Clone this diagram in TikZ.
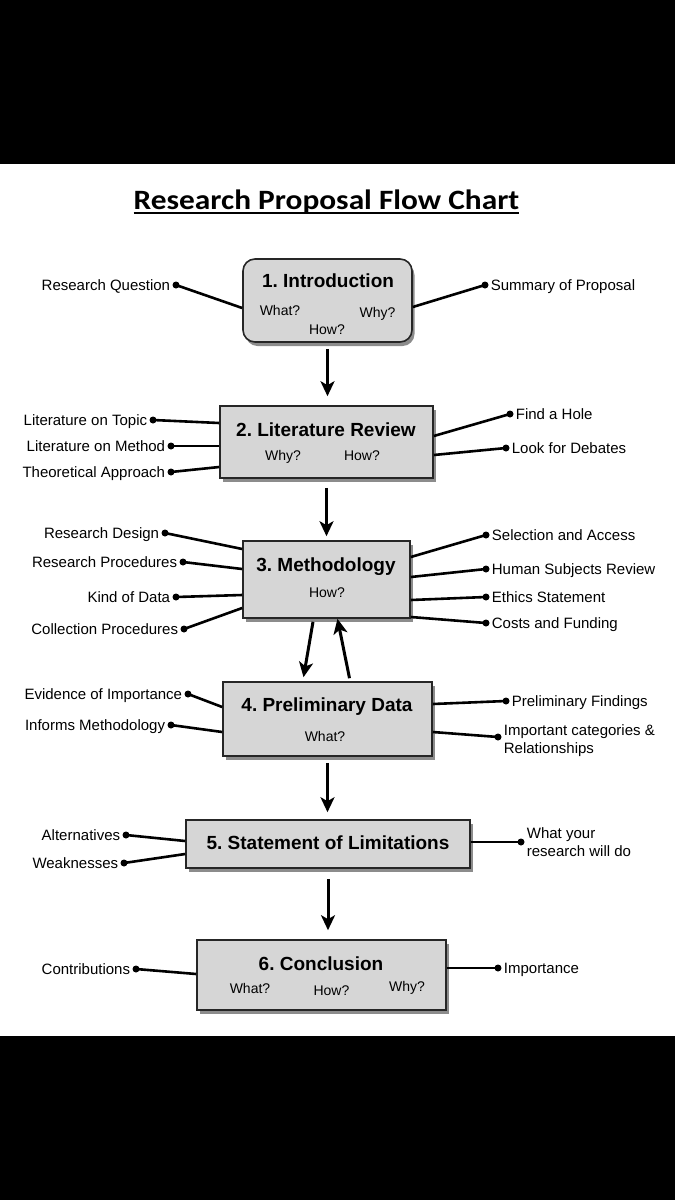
\documentclass[tikz,border=0pt]{standalone}
\usepackage{fontspec}
\setmainfont{Liberation Sans}
\newfontfamily\titlefont{Carlito}
\usetikzlibrary{arrows.meta,shadows}
\frenchspacing
\begin{document}
\begin{tikzpicture}[x=1pt,y=-1pt,
  box/.style={draw=black!85, line width=1.6pt, fill=black!16, inner sep=0pt,
    drop shadow={shadow xshift=2.5pt, shadow yshift=-4pt, opacity=0.45, fill=black}},
  ttl/.style={font=\fontsize{19}{22}\selectfont\bfseries, inner sep=0pt, text height=13.5pt, text depth=0pt},
  sub/.style={font=\fontsize{14}{16}\selectfont, inner sep=0pt, text height=10pt, text depth=0pt},
  lab/.style={font=\fontsize{15}{18}\selectfont, inner sep=2pt, text height=11pt, text depth=0pt},
  labtwo/.style={font=\fontsize{15}{18}\selectfont, inner sep=2pt, align=left},
  dot/.style={circle, fill=black, inner sep=0pt, minimum size=7pt},
  con/.style={line width=2.6pt},
  flow/.style={line width=3pt, -{Stealth[length=15pt,width=14pt,inset=4pt]}},
]
\useasboundingbox (0,0) rectangle (675,1200);
\fill[black] (0,0) rectangle (675,164);
\fill[black] (0,1036) rectangle (675,1200);

% title
\node[font=\titlefont\fontsize{28}{32}\selectfont\bfseries, inner sep=0pt, anchor=base] (title) at (326.5,209) {\scalebox{1.12}[1]{Research Proposal Flow Chart}};
\draw[line width=2pt] ([yshift=-4pt]title.base west) -- ([yshift=-4pt]title.base east);

% boxes
\node[box, rounded corners=12pt, minimum width=169pt, minimum height=83pt] (intro) at (327.5,300.5) {};
\node[box, minimum width=213pt, minimum height=72pt] (lit) at (326.5,442) {};
\node[box, minimum width=167pt, minimum height=77pt] (meth) at (326.5,579.5) {};
\node[box, minimum width=209pt, minimum height=74pt] (prelim) at (327.5,719) {};
\node[box, minimum width=284pt, minimum height=48pt] (limits) at (328,844) {};
\node[box, minimum width=249pt, minimum height=70pt] (concl) at (321.5,975) {};

% box texts
\node[ttl] (introT) at (328,281) {1. Introduction};
\node[sub] (introA) at (280,310) {What?};
\node[sub] (introB) at (377.5,312) {Why?};
\node[sub] (introC) at (327,329) {How?};

\node[ttl] (litT) at (326,430) {2. Literature Review};
\node[sub] (litA) at (283,455) {Why?};
\node[sub] (litB) at (362,455) {How?};

\node[ttl] (methT) at (326,564.5) {3. Methodology};
\node[sub] (methA) at (327,592) {How?};

\node[ttl] (prelimT) at (327,705) {4. Preliminary Data};
\node[sub] (prelimA) at (325,736.5) {What?};

\node[ttl] (limitsT) at (328,842.5) {5. Statement of Limitations};

\node[ttl] (conclT) at (321,963.5) {6. Conclusion};
\node[sub] (conclA) at (250,988) {What?};
\node[sub] (conclB) at (331.5,990) {How?};
\node[sub] (conclC) at (407,986.5) {Why?};

% dots
\node[dot] (rq) at (176,285) {};
\node[dot] (sp) at (485,285) {};
\node[dot] (lt) at (153,420) {};
\node[dot] (lm) at (171,446) {};
\node[dot] (ta) at (171,472) {};
\node[dot] (fh) at (510,414) {};
\node[dot] (ld) at (506,448) {};
\node[dot] (rd) at (165,533) {};
\node[dot] (rp) at (183,562) {};
\node[dot] (kd) at (176,597) {};
\node[dot] (cp) at (184,629) {};
\node[dot] (sa) at (486,535) {};
\node[dot] (hs) at (486,569) {};
\node[dot] (es) at (486,597) {};
\node[dot] (cf) at (486,623) {};
\node[dot] (ei) at (188,694) {};
\node[dot] (im) at (171,725) {};
\node[dot] (pf) at (506,701) {};
\node[dot] (ic) at (498,737) {};
\node[dot] (al) at (126,835) {};
\node[dot] (wk) at (124,863) {};
\node[dot] (wy) at (521,842) {};
\node[dot] (ct) at (136,969) {};
\node[dot] (ip) at (498,968) {};

% labels
\node[lab, anchor=east] at (rq.west) {Research Question};
\node[lab, anchor=west] at (sp.east) {Summary of Proposal};
\node[lab, anchor=east] at (lt.west) {Literature on Topic};
\node[lab, anchor=east] at (lm.west) {Literature on Method};
\node[lab, anchor=east] at (ta.west) {Theoretical Approach};
\node[lab, anchor=west] at (fh.east) {Find a Hole};
\node[lab, anchor=west] at (ld.east) {Look for Debates};
\node[lab, anchor=east] at (rd.west) {Research Design};
\node[lab, anchor=east] at (rp.west) {Research Procedures};
\node[lab, anchor=east] at (kd.west) {Kind of Data};
\node[lab, anchor=east] at (cp.west) {Collection Procedures};
\node[lab, anchor=west] at (sa.east) {Selection and Access};
\node[lab, anchor=west] at (hs.east) {Human Subjects Review};
\node[lab, anchor=west] at (es.east) {Ethics Statement};
\node[lab, anchor=west] at (cf.east) {Costs and Funding};
\node[lab, anchor=east] at (ei.west) {Evidence of Importance};
\node[lab, anchor=east] at (im.west) {Informs Methodology};
\node[lab, anchor=west] at (pf.east) {Preliminary Findings};
\node[labtwo, anchor=west] at ([yshift=-4pt]ic.east) {Important categories \&\\Relationships};
\node[lab, anchor=east] at (al.west) {Alternatives};
\node[lab, anchor=east] at (wk.west) {Weaknesses};
\node[labtwo, anchor=west] at (wy.east) {What your\\research will do};
\node[lab, anchor=east] at (ct.west) {Contributions};
\node[lab, anchor=west] at (ip.east) {Importance};

% connectors
\draw[con] (rq.center) -- (intro.west |- 0,308);
\draw[con] (sp.center) -- (intro.east |- 0,307);
\draw[con] (lt.center) -- (lit.west |- 0,423);
\draw[con] (lm.center) -- (lit.west |- 0,446);
\draw[con] (ta.center) -- (lit.west |- 0,467);
\draw[con] (fh.center) -- (lit.east |- 0,436);
\draw[con] (ld.center) -- (lit.east |- 0,455);
\draw[con] (rd.center) -- (meth.west |- 0,549);
\draw[con] (rp.center) -- (meth.west |- 0,569);
\draw[con] (kd.center) -- (meth.west |- 0,595);
\draw[con] (cp.center) -- (meth.west |- 0,608);
\draw[con] (sa.center) -- (meth.east |- 0,557);
\draw[con] (hs.center) -- (meth.east |- 0,577);
\draw[con] (es.center) -- (meth.east |- 0,600);
\draw[con] (cf.center) -- (meth.east |- 0,617);
\draw[con] (ei.center) -- (prelim.west |- 0,707);
\draw[con] (im.center) -- (prelim.west |- 0,732);
\draw[con] (pf.center) -- (prelim.east |- 0,704);
\draw[con] (ic.center) -- (prelim.east |- 0,732);
\draw[con] (al.center) -- (limits.west |- 0,841);
\draw[con] (wk.center) -- (limits.west |- 0,854);
\draw[con] (wy.center) -- (limits.east |- 0,842);
\draw[con] (ct.center) -- (concl.west |- 0,974);
\draw[con] (ip.center) -- (concl.east |- 0,968);

% flow arrows
\draw[flow] ([yshift=-6pt]intro.south) -- ([yshift=9pt]intro.south |- lit.north);
\draw[flow] ([yshift=-9pt]lit.south) -- ([yshift=4pt]lit.south |- meth.north);
\draw[flow] ([xshift=-13.5pt,yshift=-3pt]meth.south) -- ([xshift=-24pt,yshift=4pt]prelim.north);
\draw[flow] ([xshift=22pt,yshift=3pt]prelim.north) -- ([xshift=11pt]meth.south);
\draw[flow] ([yshift=-6pt]prelim.south) -- ([yshift=7pt]prelim.south |- limits.north);
\draw[flow] ([yshift=-10pt]limits.south) -- ([yshift=9pt]limits.south |- concl.north);
\end{tikzpicture}
\end{document}
